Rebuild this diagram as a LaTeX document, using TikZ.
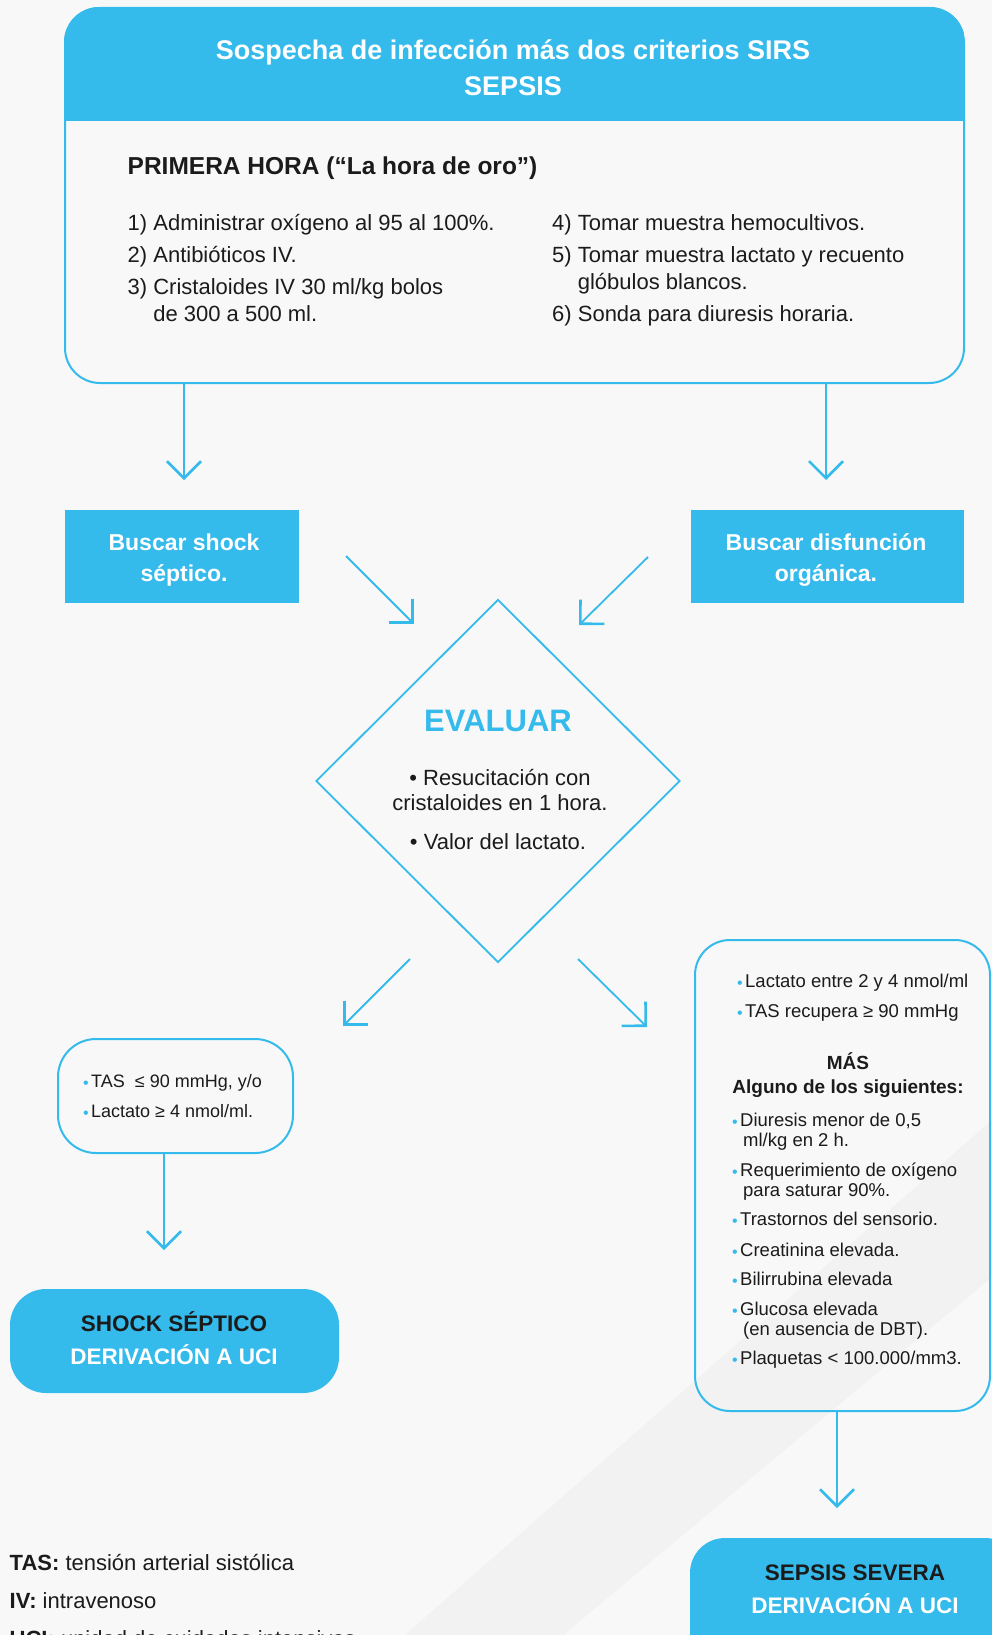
\documentclass[tikz,border=0pt]{standalone}
\usepackage{fontspec}
\setmainfont{Liberation Sans}
\usetikzlibrary{shapes.geometric,arrows.meta}
\definecolor{sky}{HTML}{35BAEC}
\definecolor{paper}{HTML}{F8F8F8}
\definecolor{faint}{HTML}{F2F2F2}
\definecolor{ink}{HTML}{1B1B1B}
\newcommand{\blt}{\makebox[8pt][l]{\color{sky}\fontsize{16}{16}\selectfont\raisebox{-0.5pt}{•}}}

\begin{document}
\begin{tikzpicture}[x=1pt,y=-1pt,
  box/.style={draw=sky,line width=2pt,rounded corners=35pt,inner sep=0pt},
  bluebox/.style={fill=sky,inner sep=0pt},
  flow/.style={draw=sky,line width=1.8pt,-{Straight Barb[angle=90:24pt,line width=2.6pt]}},
  txt/.style={inner sep=0pt,text=ink,align=left,anchor=north west},
  mid/.style={inner sep=0pt,text=ink,align=center,anchor=north},
  itemtxt/.style={txt,font=\fontsize{22}{27}\selectfont},
  crittxt/.style={txt,font=\fontsize{18.5}{19.5}\selectfont}]

% Page
\useasboundingbox (0,0) rectangle (992,1635);
\fill[paper] (0,0) rectangle (992,1635);
\clip (0,0) rectangle (992,1635);
\fill[faint] (405,1635) -- (992,1120) -- (992,1277) -- (563,1635) -- cycle;

% Arrow ends
\coordinate (head) at (964,121);
\coordinate (tipA) at (184,480);
\coordinate (tipB) at (826,480);
\coordinate (fromC) at (346,556);
\coordinate (tipC) at (414,624);
\coordinate (fromD) at (648,557);
\coordinate (tipD) at (579,625);
\coordinate (fromE) at (410,959);
\coordinate (tipE) at (343,1026);
\coordinate (fromF) at (578,959);
\coordinate (tipF) at (647,1027);
\coordinate (tipG) at (164,1250);
\coordinate (tipH) at (837,1508);

% Top box
\node[box,minimum width=899pt,minimum height=375pt] (top) at (514.5,195.5) {};
\begin{scope}
\clip[rounded corners=35pt] (top.south west) rectangle (top.north east);
\fill[sky] (top.north west) rectangle (head);
\end{scope}
\node[mid,text=white,font=\bfseries\fontsize{27}{36}\selectfont] (title) at (513,34.5)
  {\strut Sospecha de infección más dos criterios SIRS\\SEPSIS};
\node[txt,font=\bfseries\fontsize{24.5}{30}\selectfont] (hora) at (127.5,152.8)
  {\strut PRIMERA HORA (“La hora de oro”)};

\node[itemtxt] (item1) at (127.5,211) {\strut 1) Administrar oxígeno al 95 al 100\%.};
\node[itemtxt] (item2) at (127.5,243) {\strut 2) Antibióticos IV.};
\node[itemtxt] (item3) at (127.5,275) {\strut 3) Cristaloides IV 30 ml/kg bolos\\\phantom{3) }de 300 a 500 ml.};
\node[itemtxt] (item4) at (552,211) {\strut 4) Tomar muestra hemocultivos.};
\node[itemtxt] (item5) at (552,243) {\strut 5) Tomar muestra lactato y recuento\\\phantom{5) }glóbulos blancos.};
\node[itemtxt] (item6) at (552,302) {\strut 6) Sonda para diuresis horaria.};

% Buscar boxes
\node[bluebox,minimum width=234pt,minimum height=93pt] (shockbox) at (182,556.5) {};
\node[bluebox,minimum width=273pt,minimum height=93pt] (organbox) at (827.5,556.5) {};
\node[mid,text=white,font=\bfseries\fontsize{23}{30.5}\selectfont] (shocklbl) at (184,529)
  {\strut Buscar shock\\séptico.};
\node[mid,text=white,font=\bfseries\fontsize{23}{30.5}\selectfont] (organlbl) at (826,529)
  {\strut Buscar disfunción\\orgánica.};

% Evaluar
\node[draw=sky,line width=1.8pt,diamond,minimum width=364pt,minimum height=363pt,inner sep=0pt] (eval) at (498,781) {};
\node[mid,text=sky,font=\bfseries\fontsize{31}{37}\selectfont] (evaltitle) at (498,705) {\strut EVALUAR};
\node[mid,font=\fontsize{22}{25.6}\selectfont] (evalA) at (500,767) {\strut • Resucitación con\\cristaloides en 1 hora.};
\node[mid,font=\fontsize{22}{25.6}\selectfont] (evalB) at (498,831) {\strut • Valor del lactato.};

% Shock branch
\node[box,rounded corners=38pt,minimum width=235pt,minimum height=114pt] (tasbox) at (175.5,1096) {};
\node[txt,font=\fontsize{18}{30}\selectfont] (taslbl) at (83,1066.5)
  {\strut\blt TAS\ \ ≤ 90 mmHg, y/o\\\blt Lactato ≥ 4 nmol/ml.};
\node[bluebox,rounded corners=36pt,minimum width=329pt,minimum height=104pt] (shock) at (174.5,1341) {};
\node[mid,font=\bfseries\fontsize{22.5}{33}\selectfont] (shocktxt) at (174,1308)
  {\strut SHOCK SÉPTICO\\\textcolor{white}{DERIVACIÓN A UCI}};

% Sepsis branch
\node[box,minimum width=295pt,minimum height=471pt] (critbox) at (842.5,1175.5) {};
\node[txt,font=\fontsize{18.5}{30}\selectfont] (critA) at (737,966.7)
  {\strut\blt Lactato entre 2 y 4 nmol/ml\\\blt TAS recupera ≥ 90 mmHg};
\node[mid,font=\bfseries\fontsize{19}{24}\selectfont] (mas) at (848,1052) {\strut MÁS\\Alguno de los siguientes:};
\node[crittxt] (crit1) at (732,1113) {\strut\blt Diuresis menor de 0,5\\\hspace*{11pt}ml/kg en 2 h.};
\node[crittxt] (crit2) at (732,1163) {\strut\blt Requerimiento de oxígeno\\\hspace*{11pt}para saturar 90\%.};
\node[crittxt] (crit3) at (732,1212) {\strut\blt Trastornos del sensorio.};
\node[crittxt] (crit4) at (732,1243) {\strut\blt Creatinina elevada.};
\node[crittxt] (crit5) at (732,1272) {\strut\blt Bilirrubina elevada};
\node[crittxt] (crit6) at (732,1302) {\strut\blt Glucosa elevada\\\hspace*{11pt}(en ausencia de DBT).};
\node[crittxt] (crit7) at (732,1351) {\strut\blt Plaquetas < 100.000/mm3.};
\node[bluebox,rounded corners=35pt,minimum width=330pt,minimum height=142pt] (sepsis) at (855,1609) {};
\node[mid,font=\bfseries\fontsize{22.5}{33}\selectfont] (sepsistxt) at (855,1557)
  {\strut SEPSIS SEVERA\\\textcolor{white}{DERIVACIÓN A UCI}};

% Legend
\node[txt,font=\fontsize{22}{38}\selectfont] (legend) at (9.5,1544)
  {\strut\textbf{TAS:} tensión arterial sistólica\\\textbf{IV:} intravenoso\\\textbf{UCI:} unidad de cuidados intensivos};

% Connectors
\draw[flow] (top.south -| tipA) -- (tipA);
\draw[flow] (top.south -| tipB) -- (tipB);
\draw[flow] (fromC) -- (tipC);
\draw[flow] (fromD) -- (tipD);
\draw[flow] (fromE) -- (tipE);
\draw[flow] (fromF) -- (tipF);
\draw[flow] (tasbox.south -| tipG) -- (tipG);
\draw[flow] (critbox.south -| tipH) -- (tipH);

\end{tikzpicture}
\end{document}
